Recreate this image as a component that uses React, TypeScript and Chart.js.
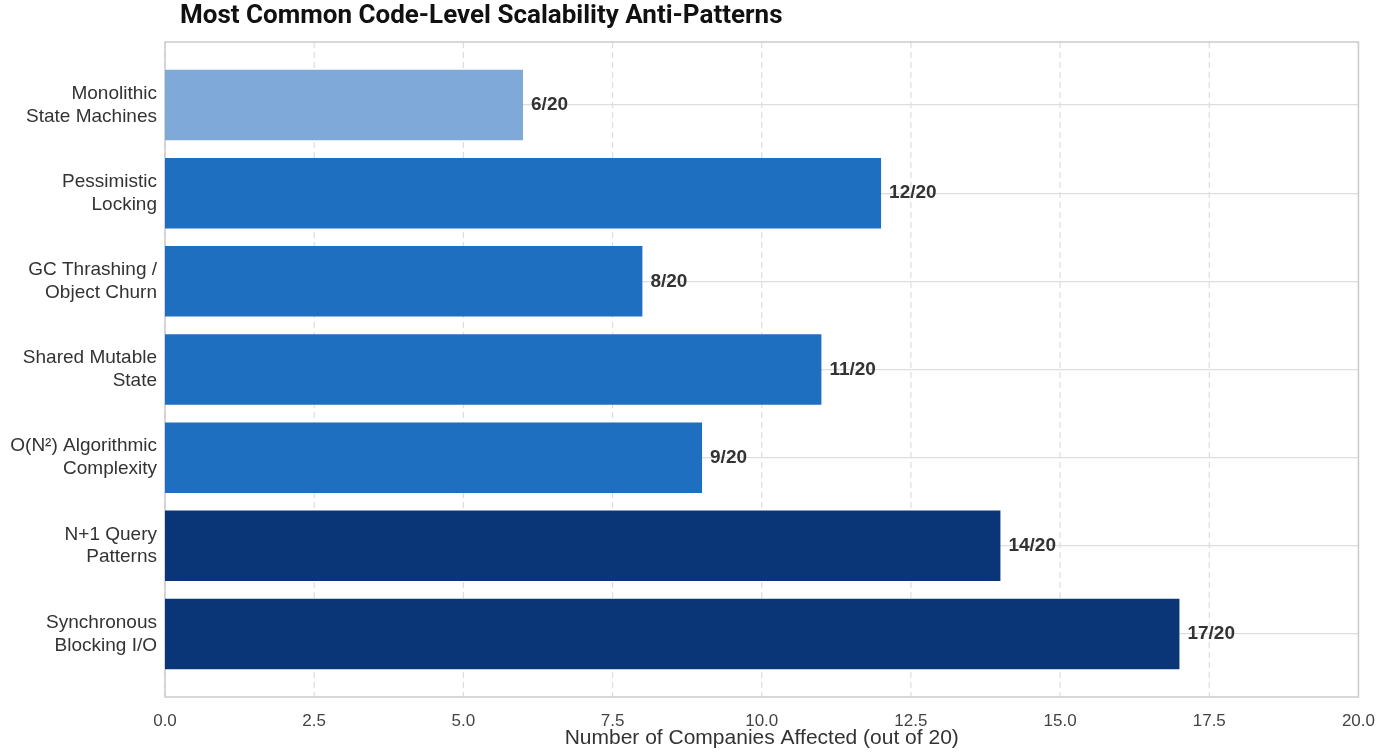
import React, { useEffect, useRef } from "react";
import { Chart, registerables } from "chart.js";
Chart.register(...registerables);

const categories: string[][] = [
  ["Monolithic", "State Machines"],
  ["Pessimistic", "Locking"],
  ["GC Thrashing /", "Object Churn"],
  ["Shared Mutable", "State"],
  ["O(N²) Algorithmic", "Complexity"],
  ["N+1 Query", "Patterns"],
  ["Synchronous", "Blocking I/O"],
];
const values = [6, 12, 8, 11, 9, 14, 17];
const colors = ["#7FA9D8", "#1F6FC1", "#1F6FC1", "#1F6FC1", "#1F6FC1", "#0A3677", "#0A3677"];
const total = 20;
const xTicks = [0, 2.5, 5, 7.5, 10, 12.5, 15, 17.5, 20];
const title = "Most Common Code-Level Scalability Anti-Patterns";
const xTitle = "Number of Companies Affected (out of 20)";

const EXT = 19;

export default function App() {
  const ref = useRef<HTMLCanvasElement>(null);
  useEffect(() => {
    document.body.style.margin = "0";
    const font = "'Liberation Sans', Arial, sans-serif";
    const extras = {
      id: "extras",
      beforeDatasetsDraw(c: any) {
        const { ctx, chartArea: a, scales } = c;
        ctx.save();
        ctx.strokeStyle = "#dddddd";
        ctx.lineWidth = 1.2;
        ctx.setLineDash([6, 4]);
        xTicks.forEach((t) => {
          const x = scales.x.getPixelForValue(t);
          ctx.beginPath();
          ctx.moveTo(x, a.top - EXT);
          ctx.lineTo(x, a.bottom + EXT);
          ctx.stroke();
        });
        ctx.setLineDash([]);
        ctx.strokeStyle = "#cccccc";
        ctx.lineWidth = 1.5;
        ctx.strokeRect(a.left, a.top - EXT, a.right - a.left, a.bottom - a.top + 2 * EXT);
        ctx.restore();
      },
      afterDraw(c: any) {
        const { ctx } = c;
        ctx.save();
        ctx.fillStyle = "#111";
        ctx.font = "bold 26px Roboto, sans-serif";
        ctx.textBaseline = "middle";
        ctx.fillText(title, 180, 16);
        const meta = c.getDatasetMeta(0);
        ctx.font = `bold 19px ${font}`;
        ctx.fillStyle = "#333";
        meta.data.forEach((el: any, i: number) => {
          ctx.fillText(`${values[i]}/${total}`, el.x + 8, el.y);
        });
        ctx.restore();
      },
    };
    const chart = new Chart(ref.current!, {
      type: "bar",
      data: {
        labels: categories,
        datasets: [{ data: values, backgroundColor: colors, barPercentage: 0.8, categoryPercentage: 1 }],
      },
      options: {
        indexAxis: "y",
        animation: false,
        responsive: false,
        layout: { padding: { top: 42 + EXT, right: 15 } },
        plugins: { legend: { display: false }, tooltip: { enabled: false } },
        scales: {
          x: {
            type: "linear",
            min: 0,
            max: 20,
            ticks: { stepSize: 2.5, color: "#444", padding: EXT + 6, font: { family: font, size: 17 }, callback: (v: any) => Number(v).toFixed(1) },
            grid: { display: false },
            border: { display: false },
            title: { display: true, text: xTitle, color: "#333", font: { family: font, size: 21 }, padding: { top: 2 } },
            afterFit: (s: any) => { s.height = 58 + EXT; },
          },
          y: {
            type: "category",
            offset: true,
            ticks: { color: "#333", font: { family: font, size: 19 }, padding: 8 },
            grid: { color: "#dddddd", lineWidth: 1.2, drawTicks: false, offset: false },
            border: { display: false },
            afterFit: (s: any) => { s.width = 165; },
          },
        },
      } as any,
      plugins: [extras],
    });
    return () => chart.destroy();
  }, []);
  return <canvas ref={ref} width={1400} height={755} style={{ display: "block" }} />;
}
